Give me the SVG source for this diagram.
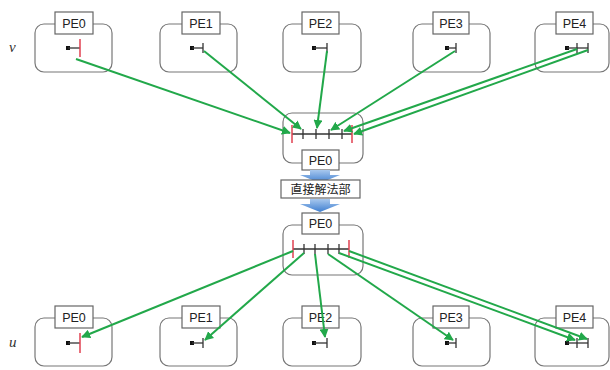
<svg xmlns="http://www.w3.org/2000/svg" width="610" height="370" viewBox="0 0 610 370">
<defs>
<style>
.pe{fill:#fff;stroke:#777;stroke-width:1.2}
.lb{fill:#fff;stroke:#666;stroke-width:1.2}
.t{font-family:"Liberation Sans","Noto Sans",sans-serif;font-size:12.5px;fill:#222;text-anchor:middle}
.cjk{font-family:"Liberation Sans","Noto Sans CJK JP",sans-serif;font-size:12px;fill:#222;text-anchor:middle}
.var{font-family:"Liberation Serif",serif;font-style:italic;font-size:15px;fill:#333}
.ax{stroke:#333;stroke-width:1.3}
.red{stroke:#e04050;stroke-width:1.5}
.c{stroke:#22a84a;stroke-width:2;fill:none;marker-end:url(#ah)}
</style>
<marker id="ah" viewBox="0 0 10 10" refX="9" refY="5" markerWidth="4.5" markerHeight="4.5" orient="auto">
<path d="M0,0L10,5L0,10z" fill="#22a84a"/>
</marker>
<linearGradient id="bg" x1="0" y1="0" x2="0" y2="1">
<stop offset="0" stop-color="#a8c8ee"/>
<stop offset="1" stop-color="#3f7fd0"/>
</linearGradient>
</defs>

<text class="var" x="9" y="52">v</text>
<text class="var" x="9" y="347">u</text>

<g id="v-pe0"><rect class="pe" x="35" y="24" width="77" height="48" rx="9"/><rect class="lb" x="55" y="12" width="38" height="22"/><text class="t" x="74" y="28">PE0</text><rect x="66" y="46" width="4" height="4" fill="#111"/><line class="ax" x1="68" y1="48" x2="80" y2="48"/><line class="red" x1="80" y1="39" x2="80" y2="57"/></g>
<g id="v-pe1"><rect class="pe" x="160" y="24" width="77" height="48" rx="9"/><rect class="lb" x="182" y="12" width="38" height="22"/><text class="t" x="201" y="28">PE1</text><rect x="190" y="46" width="4" height="4" fill="#111"/><line class="ax" x1="192" y1="48" x2="203" y2="48"/><line class="ax" x1="203" y1="43" x2="203" y2="53"/></g>
<g id="v-pe2"><rect class="pe" x="283" y="24" width="78" height="48" rx="9"/><rect class="lb" x="302" y="12" width="37" height="22"/><text class="t" x="320.5" y="28">PE2</text><rect x="312" y="46" width="4" height="4" fill="#111"/><line class="ax" x1="314" y1="48" x2="327" y2="48"/><line class="ax" x1="327" y1="43" x2="327" y2="53"/></g>
<g id="v-pe3"><rect class="pe" x="413" y="24" width="77" height="48" rx="9"/><rect class="lb" x="433" y="12" width="36" height="22"/><text class="t" x="451" y="28">PE3</text><rect x="445" y="46" width="4" height="4" fill="#111"/><line class="ax" x1="447" y1="48" x2="456" y2="48"/><line class="ax" x1="456" y1="43" x2="456" y2="53"/></g>
<g id="v-pe4"><rect class="pe" x="535" y="24" width="74" height="48" rx="9"/><rect class="lb" x="556" y="12" width="37" height="22"/><text class="t" x="574.5" y="28">PE4</text><rect x="565" y="46" width="4" height="4" fill="#111"/><line class="ax" x1="567" y1="48" x2="588" y2="48"/><line class="ax" x1="577" y1="43" x2="577" y2="53"/><line class="ax" x1="588" y1="43" x2="588" y2="53"/></g>

<g id="c-top"><rect class="pe" x="283" y="113" width="80" height="50" rx="9"/><line class="ax" x1="292" y1="134" x2="352" y2="134"/><line class="red" x1="292" y1="125" x2="292" y2="143"/><line class="ax" x1="303" y1="129" x2="303" y2="139"/><line class="ax" x1="316" y1="129" x2="316" y2="139"/><line class="ax" x1="329" y1="129" x2="329" y2="139"/><line class="ax" x1="342" y1="129" x2="342" y2="139"/><line class="red" x1="352" y1="125" x2="352" y2="143"/><rect class="lb" x="302" y="150" width="37" height="20"/><text class="t" x="320.5" y="165">PE0</text></g>

<g id="arrow1"><path d="M310,170H330V175H340L320,183L300,175H310Z" fill="url(#bg)"/></g>
<g id="solver"><rect class="lb" x="281" y="180" width="79" height="18"/><text class="cjk" x="320.5" y="194">直接解法部</text></g>
<g id="arrow2"><path d="M310,199H330V204H340L320,212L300,204H310Z" fill="url(#bg)"/></g>

<g id="c-bot"><rect class="pe" x="283" y="225" width="80" height="50" rx="9"/><rect class="lb" x="302" y="213" width="37" height="21"/><text class="t" x="320.5" y="228">PE0</text><line class="ax" x1="293" y1="249" x2="349" y2="249"/><line class="red" x1="293" y1="240" x2="293" y2="258"/><line class="ax" x1="304" y1="244" x2="304" y2="254"/><line class="ax" x1="315" y1="244" x2="315" y2="254"/><line class="ax" x1="328" y1="244" x2="328" y2="254"/><line class="ax" x1="339" y1="244" x2="339" y2="254"/><line class="red" x1="349" y1="240" x2="349" y2="258"/></g>

<g id="u-pe0"><rect class="pe" x="35" y="318" width="77" height="48" rx="9"/><rect class="lb" x="55" y="306" width="38" height="22"/><text class="t" x="74" y="322">PE0</text><rect x="66" y="341" width="4" height="4" fill="#111"/><line class="ax" x1="68" y1="343" x2="80" y2="343"/><line class="red" x1="80" y1="333" x2="80" y2="353"/></g>
<g id="u-pe1"><rect class="pe" x="160" y="318" width="77" height="48" rx="9"/><rect class="lb" x="182" y="306" width="38" height="22"/><text class="t" x="201" y="322">PE1</text><rect x="190" y="341" width="4" height="4" fill="#111"/><line class="ax" x1="192" y1="343" x2="203" y2="343"/><line class="ax" x1="203" y1="338" x2="203" y2="348"/></g>
<g id="u-pe2"><rect class="pe" x="283" y="318" width="78" height="48" rx="9"/><rect class="lb" x="302" y="306" width="37" height="22"/><text class="t" x="320.5" y="322">PE2</text><rect x="312" y="341" width="4" height="4" fill="#111"/><line class="ax" x1="314" y1="343" x2="327" y2="343"/><line class="ax" x1="327" y1="338" x2="327" y2="348"/></g>
<g id="u-pe3"><rect class="pe" x="413" y="318" width="77" height="48" rx="9"/><rect class="lb" x="433" y="306" width="36" height="22"/><text class="t" x="451" y="322">PE3</text><rect x="445" y="341" width="4" height="4" fill="#111"/><line class="ax" x1="447" y1="343" x2="456" y2="343"/><line class="ax" x1="456" y1="338" x2="456" y2="348"/></g>
<g id="u-pe4"><rect class="pe" x="535" y="318" width="74" height="48" rx="9"/><rect class="lb" x="556" y="306" width="37" height="22"/><text class="t" x="574.5" y="322">PE4</text><rect x="565" y="341" width="4" height="4" fill="#111"/><line class="ax" x1="567" y1="343" x2="588" y2="343"/><line class="ax" x1="577" y1="338" x2="577" y2="348"/><line class="ax" x1="588" y1="338" x2="588" y2="348"/></g>

<g id="connectors">
<line class="c" x1="76" y1="59" x2="290" y2="133"/>
<line class="c" x1="204" y1="51" x2="301" y2="129"/>
<line class="c" x1="327" y1="51" x2="317" y2="128"/>
<line class="c" x1="455" y1="51" x2="331" y2="130"/>
<line class="c" x1="577" y1="49" x2="344" y2="131"/>
<line class="c" x1="588" y1="50" x2="354" y2="134"/>
<line class="c" x1="293" y1="251" x2="82" y2="337"/>
<line class="c" x1="304" y1="253" x2="205" y2="340"/>
<line class="c" x1="315" y1="254" x2="325" y2="337"/>
<line class="c" x1="328" y1="254" x2="453" y2="340"/>
<line class="c" x1="339" y1="253" x2="575" y2="340"/>
<line class="c" x1="349" y1="251" x2="587" y2="339"/>
</g>
</svg>
